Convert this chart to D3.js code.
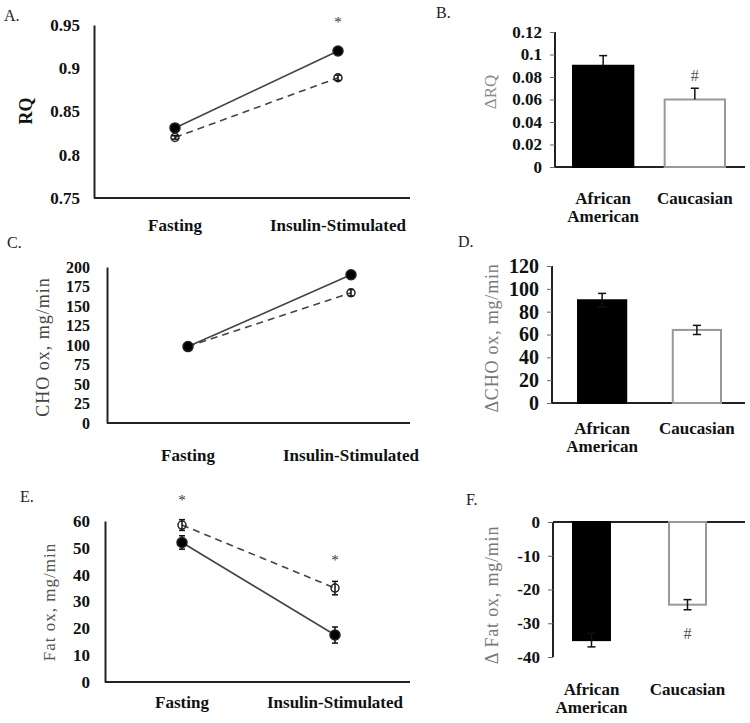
<!DOCTYPE html>
<html><head><meta charset="utf-8">
<script src="https://cdn.jsdelivr.net/npm/d3@7"></script>
<style>
html,body{margin:0;padding:0;background:#fff;}
svg{display:block;}
</style></head>
<body>
<svg id="c" width="750" height="723"></svg>
<script>
// ---------- data ----------
const timepoints = ["Fasting", "Insulin-Stimulated"];
const groups = ["African American", "Caucasian"];

const rqAA = [0.831, 0.920];
const rqAAerr = [0.002, 0.003];
const rqCA = [0.820, 0.889];
const rqCAerr = [0.002, 0.003];
const rqTicks = [0.75, 0.8, 0.85, 0.9, 0.95];

const choAA = [98, 190];
const choAAerr = [4, 5];
const choCA = [98, 167];
const choCAerr = [4, 4];
const choTicks = [0, 25, 50, 75, 100, 125, 150, 175, 200];

const fatAA = [52, 17.5];
const fatAAerr = [2.5, 3];
const fatCA = [58.5, 35];
const fatCAerr = [2, 2.5];
const fatTicks = [0, 10, 20, 30, 40, 50, 60];

const dRQ = [0.09, 0.06];
const dRQerr = [0.009, 0.01];
const dRQTicks = [0, 0.02, 0.04, 0.06, 0.08, 0.1, 0.12];

const dCHO = [90, 64];
const dCHOerr = [6, 4];
const dCHOTicks = [0, 20, 40, 60, 80, 100, 120];

const dFat = [-35, -24.5];
const dFatErr = [2, 1.5];
const dFatTicks = [0, -10, -20, -30, -40];

const svg = d3.select("#c");
const AX = "#222";
const FONT = "'Liberation Serif', 'Times New Roman', serif";
const fmt = d => String(d);

function panelLetter(t, x, y) {
  svg.append("text").attr("x", x).attr("y", y).attr("font-size", 16).attr("fill", "#222").text(t);
}

function ylabel(t, x, y, opts) {
  svg.append("text").attr("transform", `translate(${x},${y}) rotate(-90)`)
    .attr("text-anchor", "middle").attr("dominant-baseline", "central")
    .attr("font-size", opts.size).attr("font-weight", opts.bold ? "bold" : "normal")
    .attr("fill", opts.color).attr("letter-spacing", opts.ls || 0).text(t);
}

// ---------- line panels ----------
function linePanel(cfg) {
  const y = d3.scaleLinear().domain(cfg.domain).range([cfg.bottom, cfg.top]);
  const x = d3.scalePoint().domain(timepoints).range(cfg.pts);
  const g = svg.append("g");
  const ya = d3.axisLeft(y).tickValues(cfg.ticks).tickSize(0).tickPadding(cfg.pad).tickFormat(fmt);
  const yg = g.append("g").attr("transform", `translate(${cfg.x0},0)`).call(ya);
  yg.select(".domain").attr("stroke", AX).attr("stroke-width", 2);
  yg.selectAll("text").attr("font-size", cfg.tfs).attr("font-weight", "bold").attr("fill", "#111");
  g.append("line").attr("x1", cfg.x0).attr("x2", cfg.x1).attr("y1", cfg.bottom).attr("y2", cfg.bottom)
    .attr("stroke", AX).attr("stroke-width", 2);
  timepoints.forEach(t => {
    g.append("text").attr("x", x(t)).attr("y", cfg.labY).attr("text-anchor", "middle")
      .attr("font-size", 17).attr("font-weight", "bold").attr("fill", "#111").text(t);
  });
  const series = [
    {v: cfg.ca, e: cfg.caErr, dash: "7,5", fill: "#fff"},
    {v: cfg.aa, e: cfg.aaErr, dash: null, fill: "#000"}
  ];
  series.forEach(s => {
    const line = d3.line().x((d, i) => x(timepoints[i])).y(d => y(d));
    g.append("path").datum(s.v).attr("d", line).attr("fill", "none")
      .attr("stroke", "#444").attr("stroke-width", 1.6).attr("stroke-dasharray", s.dash);
  });
  series.forEach(s => {
    s.v.forEach((d, i) => {
      const cx = x(timepoints[i]);
      g.append("line").attr("x1", cx).attr("x2", cx).attr("y1", y(d - s.e[i])).attr("y2", y(d + s.e[i]))
        .attr("stroke", "#111").attr("stroke-width", 1.5);
      [d - s.e[i], d + s.e[i]].forEach(v => g.append("line").attr("x1", cx - 3).attr("x2", cx + 3)
        .attr("y1", y(v)).attr("y2", y(v)).attr("stroke", "#111").attr("stroke-width", 1.5));
      g.append("circle").attr("cx", cx).attr("cy", y(d)).attr("r", s.fill === "#000" ? 5 : 4)
        .attr("fill", s.fill === "#000" ? "#000" : "none").attr("stroke", "#222").attr("stroke-width", 1.5);
    });
  });
  (cfg.stars || []).forEach(st => {
    g.append("text").attr("x", x(timepoints[st.i])).attr("y", st.y).attr("text-anchor", "middle")
      .attr("dominant-baseline", "central").attr("font-size", 15).attr("fill", "#333").text("*");
  });
}

// ---------- bar panels ----------
function barPanel(cfg) {
  const y = d3.scaleLinear().domain(cfg.domain).range([cfg.bottom, cfg.top]);
  const x = d3.scaleBand().domain(groups).range(cfg.bandRange).paddingInner(cfg.pi).paddingOuter(0);
  const g = svg.append("g");
  const ya = d3.axisLeft(y).tickValues(cfg.ticks).tickSize(5).tickPadding(cfg.pad).tickFormat(fmt);
  const yg = g.append("g").attr("transform", `translate(${cfg.x0},0)`).call(ya);
  yg.select(".domain").attr("stroke", AX).attr("stroke-width", 2).attr("d", `M0,${cfg.top}V${cfg.bottom}`);
  yg.selectAll(".tick line").attr("stroke", "#666").attr("stroke-width", 1);
  yg.selectAll("text").attr("font-size", cfg.tfs).attr("font-weight", "bold").attr("fill", "#111");
  g.append("line").attr("x1", cfg.x0).attr("x2", cfg.x1).attr("y1", y(0)).attr("y2", y(0))
    .attr("stroke", AX).attr("stroke-width", 2);
  groups.forEach((grp, i) => {
    const v = cfg.vals[i];
    const y0 = y(Math.max(0, v)), y1 = y(Math.min(0, v));
    const filled = i === 0;
    g.append("rect").attr("x", x(grp) + 1).attr("width", x.bandwidth() - 2)
      .attr("y", y0).attr("height", y1 - y0)
      .attr("fill", filled ? "#000" : "#fff").attr("stroke", filled ? "#000" : "#999").attr("stroke-width", 2);
  });
  groups.forEach((grp, i) => {
    const v = cfg.vals[i], e = cfg.errs[i];
    const cx = x(grp) + x.bandwidth() / 2;
    const lo = cfg.sides === "up" ? v : v - e;
    const hi = v + e;
    g.append("line").attr("x1", cx).attr("x2", cx).attr("y1", y(lo)).attr("y2", y(hi))
      .attr("stroke", "#111").attr("stroke-width", 1.5);
    const caps = cfg.sides === "up" ? [hi] : [lo, hi];
    caps.forEach(c => g.append("line").attr("x1", cx - 4).attr("x2", cx + 4).attr("y1", y(c)).attr("y2", y(c))
      .attr("stroke", "#111").attr("stroke-width", 1.5));
  });
  const cx0 = x(groups[0]) + x.bandwidth() / 2, cx1 = x(groups[1]) + x.bandwidth() / 2;
  g.append("text").attr("y", cfg.labY)
    .attr("text-anchor", "middle").attr("font-size", 17).attr("font-weight", "bold").attr("fill", "#111")
    .selectAll("tspan").data(["African", "American"]).join("tspan")
    .attr("x", cx0 + cfg.labDx[0]).attr("dy", (d, i) => i ? 18 : 0).text(d => d);
  g.append("text").attr("x", cx1 + cfg.labDx[1]).attr("y", cfg.labY)
    .attr("text-anchor", "middle").attr("font-size", 17).attr("font-weight", "bold").attr("fill", "#111")
    .text("Caucasian");
  if (cfg.hash) {
    g.append("text").attr("x", cx1).attr("y", cfg.hash)
      .attr("text-anchor", "middle").attr("dominant-baseline", "central")
      .attr("font-size", 16).attr("fill", "#555").text("#");
  }
}

// Panel A
panelLetter("A.", 4, 21);
linePanel({domain: [0.75, 0.95], ticks: rqTicks, top: 25, bottom: 198, x0: 94, x1: 410,
  pts: [175, 338], pad: 14, tfs: 17, labY: 231, aa: rqAA, aaErr: rqAAerr, ca: rqCA, caErr: rqCAerr,
  stars: [{i: 1, y: 22}]});
ylabel("RQ", 26, 111, {size: 18, bold: true, color: "#111"});

// Panel B
panelLetter("B.", 436, 18);
barPanel({domain: [0, 0.12], ticks: dRQTicks, top: 32, bottom: 167, x0: 555, x1: 745,
  bandRange: [572, 726], pi: 0.32, pad: 8, tfs: 17, vals: dRQ, errs: dRQerr, sides: "up",
  labY: 204, labDx: [0, 0], hash: 75});
ylabel("ΔRQ", 490, 92, {size: 17, bold: false, color: "#888"});

// Panel C
panelLetter("C.", 7, 248);
linePanel({domain: [0, 200], ticks: choTicks, top: 267, bottom: 423, x0: 107, x1: 410,
  pts: [188, 351], pad: 17, tfs: 16, labY: 461, aa: choAA, aaErr: choAAerr, ca: choCA, caErr: choCAerr});
ylabel("CHO ox, mg/min", 43, 347, {size: 18, bold: false, color: "#444", ls: 1});

// Panel D
panelLetter("D.", 458, 247);
barPanel({domain: [0, 120], ticks: dCHOTicks, top: 266, bottom: 403, x0: 552, x1: 745,
  bandRange: [577, 722], pi: 0.47, pad: 8, tfs: 20, vals: dCHO, errs: dCHOerr, sides: "both",
  labY: 434, labDx: [0, 0]});
ylabel("ΔCHO ox, mg/min", 492, 338, {size: 18, bold: false, color: "#777", ls: 0.8});

// Panel E
panelLetter("E.", 20, 502);
linePanel({domain: [0, 60], ticks: fatTicks, top: 521, bottom: 682, x0: 105, x1: 410,
  pts: [182, 335], pad: 15, tfs: 17, labY: 708, aa: fatAA, aaErr: fatAAerr, ca: fatCA, caErr: fatCAerr,
  stars: [{i: 0, y: 500}, {i: 1, y: 560}]});
ylabel("Fat ox, mg/min", 49, 602, {size: 17, bold: false, color: "#555", ls: 1});

// Panel F
panelLetter("F.", 466, 505);
barPanel({domain: [-40, 0], ticks: dFatTicks, top: 522, bottom: 657, x0: 553, x1: 745,
  bandRange: [572, 707], pi: 0.594, pad: 8, tfs: 17, vals: dFat, errs: dFatErr, sides: "both",
  labY: 695, labDx: [0, 0], hash: 633});
ylabel("Δ Fat ox, mg/min", 492, 595, {size: 18, bold: false, color: "#777", ls: 0.8});

// force the serif face on every text element
svg.selectAll("text").style("font-family", FONT);
</script>
</body></html>
